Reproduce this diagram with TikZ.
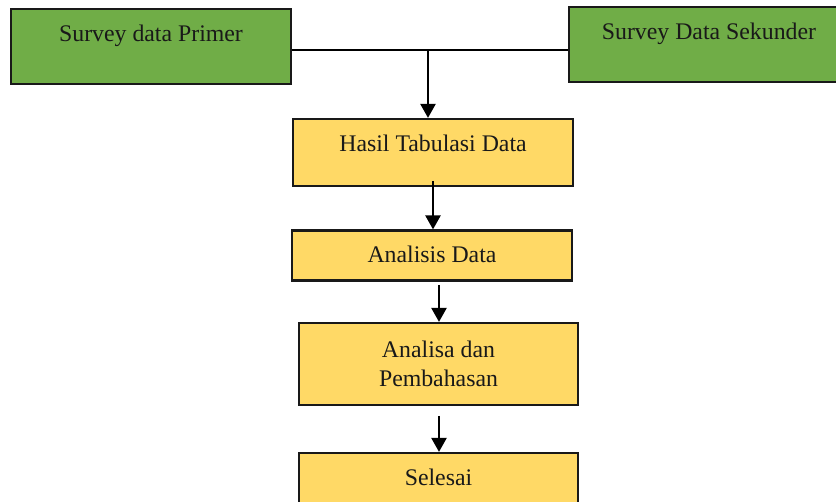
\documentclass[tikz,border=0pt]{standalone}
\usepackage{fontspec}
\setmainfont{Liberation Serif}
\usetikzlibrary{arrows.meta,calc}
\definecolor{boxgreen}{HTML}{70AD47}
\definecolor{boxyellow}{HTML}{FFD966}
\tikzset{
  box/.style={draw=black!90, line width=2.2pt, rectangle, inner sep=0pt},
  greenbox/.style={box, fill=boxgreen, minimum width=280pt, minimum height=75pt},
  yellowbox/.style={box, fill=boxyellow},
  txt/.style={font=\fontsize{23.8}{29}\selectfont, align=center, inner sep=0pt, text=black!90},
  link/.style={line width=2.4pt, black},
  arr/.style={link, -{Triangle[length=14pt,width=15pt]}}
}
\begin{document}
\begin{tikzpicture}[x=1pt,y=-1pt]
  \useasboundingbox (0,0) rectangle (836,502);
  \clip (0,0) rectangle (836,502);

  % source boxes
  \node[greenbox] (primer) at (151,46.5) {};
  \node[txt] (primer-t) at (151,36) {Survey data Primer};
  \node[greenbox] (sekunder) at (709,44.5) {};
  \node[txt] (sekunder-t) at (709,34) {Survey Data Sekunder};

  % process boxes
  \node[yellowbox, minimum width=280pt, minimum height=67pt] (hasil) at (433,152.5) {};
  \node[txt] (hasil-t) at (433,143) {Hasil Tabulasi Data};
  \node[yellowbox, minimum width=280pt, minimum height=50pt] (analisis) at (432,255.5) {};
  \node[txt] (analisis-t) at (432,254) {Analisis Data};
  \node[yellowbox, minimum width=279pt, minimum height=82pt] (analisa) at (438.5,364) {};
  \node[txt] (analisa-t) at (438.5,363.5) {Analisa dan\\Pembahasan};
  \node[yellowbox, minimum width=279pt, minimum height=70pt] (selesai) at (438.5,488) {};
  \node[txt] (selesai-t) at (438.5,477) {Selesai};

  % joining line between the two sources and arrow down
  \coordinate (j) at (428,50);
  \draw[link] (primer.east |- j) -- (sekunder.west |- j);
  \draw[arr] (j) -- (j |- hasil.north);

  % flow arrows
  \coordinate (s1) at (433,181);
  \draw[arr] (s1) -- (s1 |- analisis.north);
  \coordinate (s2) at (439,285);
  \draw[arr] (s2) -- (s2 |- analisa.north);
  \coordinate (s3) at (439,416);
  \draw[arr] (s3) -- (s3 |- selesai.north);
\end{tikzpicture}
\end{document}
